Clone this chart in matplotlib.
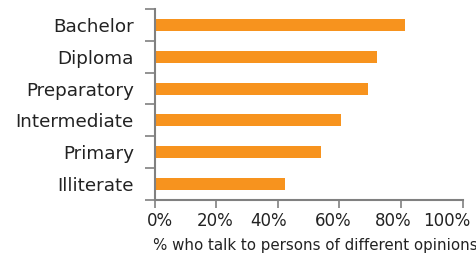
import matplotlib.pyplot as plt
from matplotlib.ticker import FixedLocator, PercentFormatter
from matplotlib.transforms import ScaledTranslation

categories = ["Illiterate", "Primary", "Intermediate", "Preparatory", "Diploma", "Bachelor"]
values = [42.2, 54.1, 60.5, 69.4, 72.2, 81.3]
x_ticks = [0, 20, 40, 60, 80, 100]

fig = plt.figure(figsize=(4.77, 2.54), dpi=100)
ax = fig.add_axes([0.3243, 0.2126, 0.6457, 0.752])

pos = list(range(len(categories)))
ax.barh(pos, values, height=0.38, color="#F7931E")

ax.set_xlim(0, 100)
ax.set_ylim(-0.5, len(categories) - 0.5)
ax.set_xticks(x_ticks)
ax.xaxis.set_major_formatter(PercentFormatter(decimals=0))

# ticks at category boundaries, labels at centres
ax.yaxis.set_major_locator(FixedLocator([p - 0.5 for p in pos] + [len(pos) - 0.5]))
ax.yaxis.set_major_formatter(plt.NullFormatter())
ax.yaxis.set_minor_locator(FixedLocator(pos))
ax.set_yticklabels(categories, minor=True)
ax.tick_params(axis="y", which="minor", length=0, pad=15, labelsize=13.2)
ax.tick_params(axis="y", which="major", length=7, width=1.2, color="#808080")
ax.tick_params(axis="x", length=6, width=1.2, color="#808080", pad=3, labelsize=12)
ax.tick_params(axis="both", which="both", labelcolor="#222222")

# x tick labels in the original sit a bit squeezed towards the middle
shifts = [5.5, -1.5, -9, -6, -8, -16]
for lab, dx in zip(ax.get_xticklabels(), shifts):
    lab.set_transform(lab.get_transform() + ScaledTranslation(dx / 100, 0, fig.dpi_scale_trans))

for s in ["top", "right"]:
    ax.spines[s].set_visible(False)
for s in ["left", "bottom"]:
    ax.spines[s].set_color("#808080")
    ax.spines[s].set_linewidth(1.5)

ax.set_xlabel("% who talk to persons of different opinions", fontsize=10.8,
              color="#222222", loc="left")
ax.xaxis.set_label_coords(-0.006, -0.2)
ax.xaxis.label.set_va("top")

fig.savefig("out.png", dpi=100)
